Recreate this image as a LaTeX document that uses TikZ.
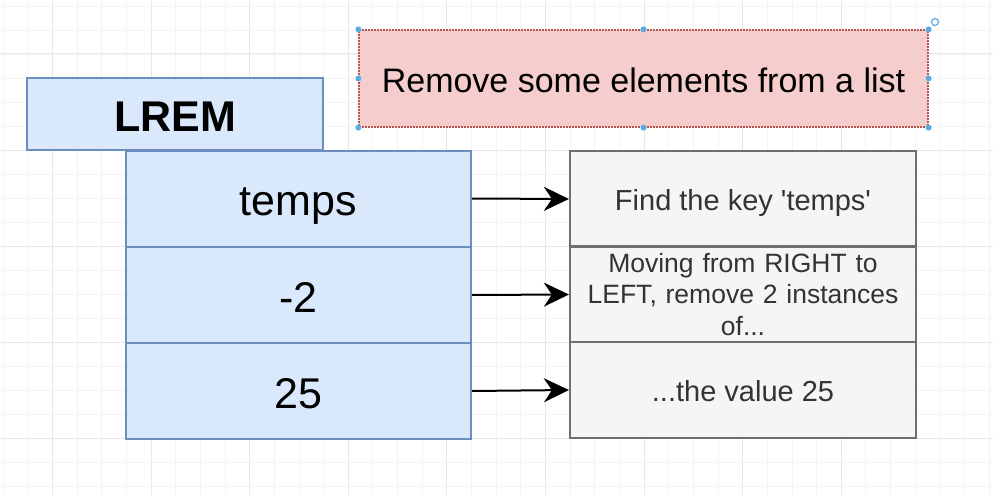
\documentclass[tikz,border=0pt]{standalone}
\usepackage{fontspec}
\setmainfont{Liberation Sans}
\usetikzlibrary{arrows.meta}
\definecolor{bluefill}{HTML}{DAE8FC}
\definecolor{blueline}{HTML}{6C8EBF}
\definecolor{pinkfill}{HTML}{F4CDCC}
\definecolor{pinkline}{HTML}{B85450}
\definecolor{grayfill}{HTML}{F5F5F5}
\definecolor{grayline}{HTML}{6E6E6E}
\definecolor{graytext}{HTML}{333333}
\definecolor{handle}{HTML}{5AAAE6}
\definecolor{gridminor}{HTML}{F4F4F4}
\definecolor{gridmajor}{HTML}{E8E8E8}
\newcommand{\sq}{{\XeTeXglyph\XeTeXcharglyph"0027\relax}}
\tikzset{
  lineA/.style={text height=38.7pt, text depth=4.3pt},
  lineB/.style={text height=30.6pt, text depth=3.4pt},
  lineC/.style={text height=26.1pt, text depth=2.9pt},
  bluebox/.style={draw=blueline, fill=bluefill, line width=2pt, inner sep=0pt, minimum width=345pt, minimum height=96pt, font=\fontsize{43}{51}\selectfont, lineA},
  graybox/.style={draw=grayline, fill=grayfill, line width=2.2pt, inner sep=0pt, minimum width=346pt, minimum height=96pt, text=graytext, align=center, font=\fontsize{29}{35}\selectfont},
  conn/.style={line width=2pt, -{Stealth[length=25pt,width=24pt,inset=8pt]}},
  handledot/.style={fill=handle, draw=none, circle, inner sep=0pt, minimum size=6pt},
}
\begin{document}
\begin{tikzpicture}[x=1pt,y=-1pt]
\useasboundingbox (0,0) rectangle (993,495);
\fill[white] (0,0) rectangle (993,495);
% grid
\foreach \i in {0,...,40} \draw[gridminor, line width=0.8pt] ({3.1+24.65*\i},0) -- ({3.1+24.65*\i},495);
\foreach \i in {0,...,20} \draw[gridminor, line width=0.8pt] (0,{6+24*\i}) -- (993,{6+24*\i});
\foreach \i in {0,...,9} \draw[gridmajor, line width=1pt] ({3.1+24.65*4*\i-24.65*2},0) -- ({3.1+24.65*4*\i-24.65*2},495);
\foreach \i in {0,...,5} \draw[gridmajor, line width=1pt] (0,{54+96*\i}) -- (993,{54+96*\i});

% title box
\node[draw=pinkline, fill=pinkfill, dashed, dash pattern=on 2pt off 1pt, line width=1.2pt, inner sep=0pt, minimum width=569pt, minimum height=97pt, font=\fontsize{34}{41}\selectfont, lineB] (title) at (643.5,78.5) {Remove some elements from a list};
\foreach \a in {north west,north,north east,east,south east,south,south west,west}
  \node[handledot] (h-\a) at (title.\a) {};
\node[draw=handle, circle, line width=1.2pt, inner sep=0pt, minimum size=7pt] (rot) at (935,22) {};

% LREM
\node[bluebox, minimum width=296pt, minimum height=72pt, font=\fontsize{43}{51}\selectfont\bfseries] (lrem) at (175,114) {LREM};

% blue stack
\node[bluebox] (b1) at (298.5,198.5) {temps};
\node[bluebox] (b2) at (298.5,295) {-2};
\node[bluebox] (b3) at (298.5,391) {25};

% gray stack
\node[graybox, lineC] (g1) at (743,199) {Find the key \sq temps\sq};
\node[graybox, text width=336pt, font=\fontsize{26.5}{31.5}\selectfont] (g2) at (743,294.5) {Moving from RIGHT to\\LEFT, remove 2 instances\\of...};
\node[graybox, lineC] (g3) at (743,390) {...the value 25};

% connectors
\draw[conn] (b1.east) -- (g1.west);
\draw[conn] (b2.east) -- (g2.west);
\draw[conn] (b3.east) -- (g3.west);
\end{tikzpicture}
\end{document}
